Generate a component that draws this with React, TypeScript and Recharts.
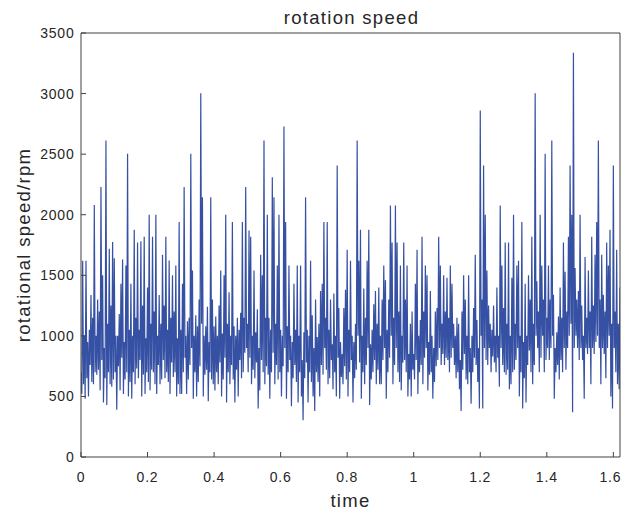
import React from 'react';
import { LineChart, Line, XAxis, YAxis } from 'recharts';

// rotational speed (rpm), one sample every 0.0025 s, in 0.1 s blocks
const seg0 = [700, 520, 1620, 600, 1000, 480, 1620, 650, 950, 500, 1050, 760, 1337, 620, 1150, 600, 2080, 700, 1000, 680, 1300, 720, 1200, 550, 2228, 800, 1500, 450, 900, 650, 2613, 430, 1100, 700, 1719, 600, 1250, 580, 1774, 640];
const seg1 = [1640, 700, 1000, 390, 1000, 750, 1180, 550, 1430, 820, 1630, 520, 950, 640, 1580, 700, 2503, 500, 1050, 620, 1430, 480, 1000, 700, 1876, 600, 1150, 730, 1770, 650, 1050, 800, 1780, 500, 1250, 680, 1818, 520, 980, 700];
const seg2 = [1400, 620, 2000, 550, 1100, 720, 1818, 700, 1200, 600, 2000, 520, 1000, 760, 1337, 600, 1100, 640, 1670, 800, 1250, 650, 1818, 700, 1050, 620, 1623, 520, 1150, 780, 1500, 660, 1200, 700, 1580, 500, 980, 600, 1939, 520];
const seg3 = [1050, 520, 1430, 700, 2228, 820, 1000, 520, 1120, 640, 1150, 760, 2503, 900, 1540, 480, 1000, 700, 1170, 500, 1080, 620, 1300, 750, 3003, 1100, 2145, 500, 1000, 680, 1080, 720, 1240, 460, 950, 700, 2145, 640, 1300, 600];
const seg4 = [1080, 550, 1160, 700, 1000, 600, 1250, 780, 1540, 500, 1020, 640, 1500, 820, 2000, 450, 1100, 700, 1360, 600, 1000, 760, 1939, 640, 1080, 450, 1000, 720, 1150, 500, 1050, 800, 1190, 650, 1939, 700, 1150, 860, 2228, 900];
const seg5 = [1100, 700, 1870, 820, 1818, 600, 1000, 720, 1540, 650, 1030, 780, 1220, 400, 900, 550, 1670, 800, 1500, 700, 2613, 600, 1150, 750, 2000, 680, 1150, 480, 1050, 700, 2310, 860, 2145, 600, 1100, 760, 1580, 640, 2000, 700];
const seg6 = [1050, 500, 1000, 750, 2728, 900, 1939, 480, 1080, 700, 1580, 800, 1000, 420, 950, 650, 1430, 760, 1050, 620, 1580, 450, 1000, 700, 1580, 500, 800, 303, 1030, 650, 2145, 780, 1050, 450, 1000, 700, 1620, 620, 1170, 500];
const seg7 = [900, 380, 1300, 700, 990, 620, 1100, 500, 1370, 760, 1430, 680, 1939, 900, 1150, 720, 1939, 600, 1050, 650, 1300, 800, 930, 560, 1350, 700, 1000, 500, 2406, 820, 1230, 480, 950, 660, 850, 600, 1230, 750, 1380, 640];
const seg8 = [1710, 500, 1050, 700, 1620, 800, 1000, 450, 950, 650, 1100, 720, 2613, 1000, 1620, 780, 1876, 480, 1000, 700, 1390, 600, 1150, 760, 1620, 900, 1876, 430, 930, 640, 1050, 700, 1260, 800, 1370, 600, 1100, 720, 1400, 600];
const seg9 = [1000, 600, 1300, 800, 1580, 900, 1460, 480, 1050, 700, 1300, 820, 2077, 1000, 1770, 600, 1150, 760, 2077, 900, 1770, 700, 1200, 620, 1580, 550, 1000, 780, 1770, 800, 1300, 700, 1580, 500, 850, 640, 1100, 500, 1200, 720];
const seg10 = [850, 640, 1430, 800, 1710, 520, 1000, 700, 1130, 760, 1818, 600, 1200, 820, 1580, 900, 1500, 550, 950, 680, 1370, 700, 1000, 480, 900, 620, 1200, 750, 1230, 800, 1818, 900, 1580, 760, 1100, 850, 1500, 760, 1200, 820];
const seg11 = [1480, 800, 1150, 700, 1580, 820, 1430, 900, 1100, 760, 1000, 650, 1150, 700, 1100, 560, 800, 380, 1200, 720, 1500, 850, 1300, 640, 1000, 600, 1500, 700, 900, 440, 1000, 700, 1230, 820, 1670, 760, 1130, 620, 900, 400];
const seg12 = [2860, 1000, 1300, 400, 2406, 900, 2000, 800, 1540, 760, 1250, 900, 1100, 700, 1050, 830, 1250, 780, 1000, 700, 1400, 820, 1000, 580, 2077, 900, 1580, 760, 1230, 700, 1770, 680, 1100, 720, 1770, 560, 1000, 600, 1480, 700];
const seg13 = [2000, 720, 1100, 800, 1580, 900, 1620, 500, 1000, 700, 1939, 400, 950, 650, 1430, 450, 1000, 760, 1500, 880, 1300, 700, 1818, 600, 1100, 760, 3003, 1000, 1450, 900, 1200, 700, 2000, 820, 1580, 1000, 1300, 700, 2503, 800];
const seg14 = [1150, 900, 1580, 800, 1300, 900, 2613, 1000, 1340, 480, 900, 700, 1030, 760, 1160, 640, 1400, 800, 1150, 700, 1770, 900, 1530, 720, 1200, 900, 1818, 1000, 2406, 1100, 2000, 370, 3336, 900, 1560, 1000, 1300, 900, 1370, 800];
const seg15 = [2000, 900, 1250, 800, 1000, 480, 1650, 900, 1150, 850, 1540, 900, 1200, 600, 1818, 900, 1250, 850, 1670, 950, 1939, 1000, 2613, 900, 1300, 600, 1670, 900, 1340, 850, 1200, 650, 1770, 900, 1580, 1000, 1876, 500, 1100, 400];
const seg16 = [2406, 900, 1200, 700, 1710, 600, 1100, 560, 1400];

const rpmValues = [
  ...seg0, ...seg1, ...seg2, ...seg3, ...seg4, ...seg5, ...seg6, ...seg7, ...seg8,
  ...seg9, ...seg10, ...seg11, ...seg12, ...seg13, ...seg14, ...seg15, ...seg16,
];
const sampleStep = 0.0025;

const xTicks = [0, 0.2, 0.4, 0.6, 0.8, 1, 1.2, 1.4, 1.6];
const yTicks = [0, 500, 1000, 1500, 2000, 2500, 3000, 3500];
const xDomain: [number, number] = [0, 1.62];
const yDomain: [number, number] = [0, 3500];

const titleText = 'rotation speed';
const xLabelText = 'time';
const yLabelText = 'rotational speed/rpm';

const data = rpmValues.map((v, i) => ({ t: Number((i * sampleStep).toFixed(4)), v }));

const FONT = '"Liberation Sans", Arial, Helvetica, sans-serif';
const AXIS = '#404040';
const TEXT = '#262626';
const LINE = '#3651a3';

const W = 621;
const H = 513;

const renderXTick = (props: any) => {
  const { x, y, payload } = props;
  const label = String(Number(Number(payload.value).toFixed(1)));
  const last = x > 608;
  return (
    <text
      x={last ? 621.3 : x}
      y={y}
      dy={10}
      textAnchor={last ? 'end' : 'middle'}
      fill={TEXT}
      fontSize={14}
      fontFamily={FONT}
      letterSpacing={0.8}
    >
      {label}
    </text>
  );
};

export default function App() {
  const yTickStyle = { fill: TEXT, fontSize: 14, fontFamily: FONT, letterSpacing: 0.8 } as any;
  return (
    <div style={{ position: 'absolute', left: 0, top: 0, width: W, height: H, overflow: 'hidden' }}>
      <LineChart width={W} height={H} data={data} margin={{ top: 32, right: 0, bottom: 0, left: 0 }}>
        <XAxis
          xAxisId="b"
          dataKey="t"
          type="number"
          domain={xDomain}
          ticks={xTicks}
          allowDataOverflow
          interval={0}
          height={56}
          tickSize={-5}
          tickMargin={20}
          stroke={AXIS}
          tick={renderXTick}
        />
        <XAxis
          xAxisId="top"
          orientation="top"
          dataKey="t"
          type="number"
          domain={xDomain}
          ticks={xTicks}
          allowDataOverflow
          interval={0}
          height={1}
          tickSize={-5}
          tick={false}
          stroke={AXIS}
        />
        <YAxis
          yAxisId="l"
          type="number"
          domain={yDomain}
          ticks={yTicks}
          allowDataOverflow
          interval={0}
          width={81}
          tickSize={-5}
          tickMargin={11.5}
          stroke={AXIS}
          tick={yTickStyle}
        />
        <YAxis
          yAxisId="r"
          orientation="right"
          type="number"
          domain={yDomain}
          ticks={yTicks}
          allowDataOverflow
          interval={0}
          width={1}
          tickSize={-5}
          tick={false}
          stroke={AXIS}
        />
        <Line
          xAxisId="b"
          yAxisId="l"
          type="linear"
          dataKey="v"
          stroke={LINE}
          strokeWidth={1.2}
          dot={false}
          activeDot={false}
          isAnimationActive={false}
        />
      </LineChart>
      <svg
        width={W}
        height={H}
        style={{ position: 'absolute', left: 0, top: 0, pointerEvents: 'none' }}
      >
        <text x={351.5} y={24} textAnchor="middle" fontFamily={FONT} fontSize={18.5} letterSpacing={1.3} fill={TEXT}>
          {titleText}
        </text>
        <text x={350.5} y={507} textAnchor="middle" fontFamily={FONT} fontSize={18.5} letterSpacing={1.3} fill={TEXT}>
          {xLabelText}
        </text>
        <text
          x={30}
          y={245}
          textAnchor="middle"
          transform="rotate(-90 30 245)"
          fontFamily={FONT}
          fontSize={18.5}
          letterSpacing={1.3}
          fill={TEXT}
        >
          {yLabelText}
        </text>
      </svg>
    </div>
  );
}
